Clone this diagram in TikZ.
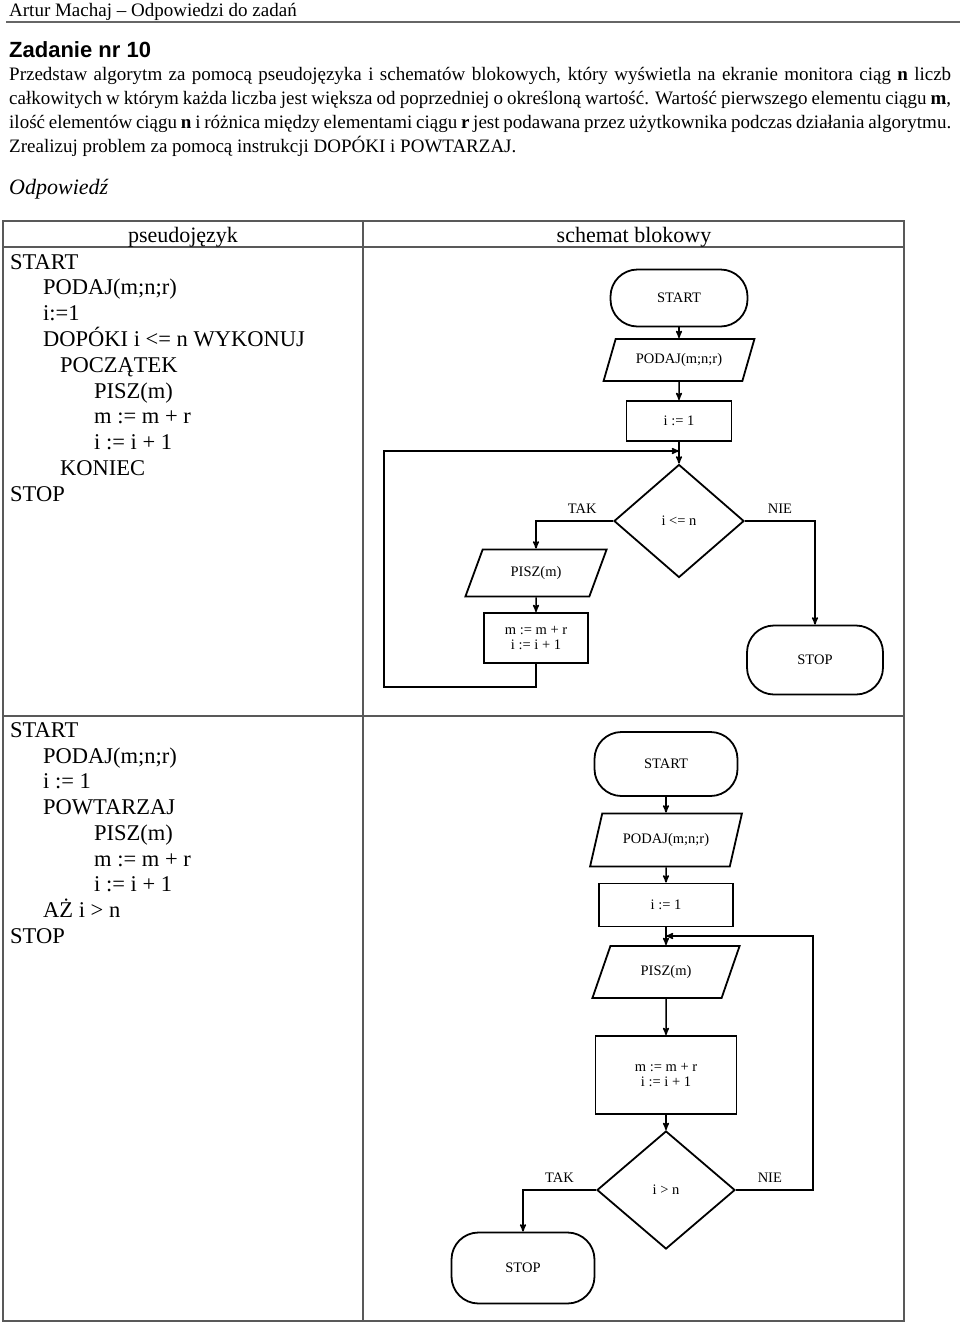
\documentclass[tikz,border=0pt]{standalone}
\usepackage{fontspec}
\setmainfont{Liberation Serif}
\newfontfamily\headfont{Liberation Sans}
\usetikzlibrary{arrows, shapes.geometric, positioning}
\newcommand{\zmienna}[1]{\textbf{#1}}
\newcommand{\pxfont}[1]{\fontsize{#1}{#1}\selectfont}

\begin{document}
\begin{tikzpicture}[
        x=1pt, y=-1pt,
        >=stealth',
        every node/.style={inner sep=0pt},
        block/.style={draw, line width=1.8pt, font=\pxfont{14.5}, align=center},
        terminal/.style={block, rectangle, rounded corners=27pt},
        process/.style={block, rectangle},
        inout/.style={block, trapezium, trapezium left angle=58, trapezium right angle=122, trapezium stretches=true},
        decision/.style={block, diamond},
        flow/.style={->, line width=1.5pt},
        answer/.style={font=\pxfont{14.5}},
        code/.style={anchor=base west, font=\pxfont{22.5}},
        tekst/.style={anchor=base west, font=\pxfont{19}},
        tableline/.style={line width=1.2pt, black!65}]

    \useasboundingbox (0,0) rectangle (960,1323);

    % naglowek i tresc zadania
    \node[tekst] (autor) at (9,16) {Artur Machaj – Odpowiedzi do zadań};
    \draw[line width=1.5pt, black!60] (6,22) -- (960,22);
    \node[anchor=base west, font=\headfont\bfseries\pxfont{22}] (tytul) at (9,57) {Zadanie nr 10};
    \node[tekst] (zad1) at (9,80.5) {\makebox[942pt][s]{Przedstaw algorytm za pomocą pseudojęzyka i schematów blokowych, który wyświetla na ekranie monitora ciąg \zmienna{n} liczb}};
    \node[tekst] (zad2) at (9,104.5) {\makebox[942pt][s]{całkowitych w którym każda liczba jest większa od poprzedniej o określoną wartość. Wartość pierwszego elementu ciągu \zmienna{m},}};
    \node[tekst] (zad3) at (9,128.5) {\makebox[942pt][s]{ilość elementów ciągu \zmienna{n} i różnica między elementami ciągu \zmienna{r} jest podawana przez użytkownika podczas działania algorytmu.}};
    \node[tekst] (zad4) at (9,152.5) {Zrealizuj problem za pomocą instrukcji DOPÓKI i POWTARZAJ.};
    \node[anchor=base west, font=\itshape\pxfont{22}] (odp) at (9,194) {Odpowiedź};

    % tabela
    \draw[tableline] (3,221) rectangle (904,1321);
    \draw[tableline] (3,247) -- (904,247) (3,716) -- (904,716) (363,221) -- (363,1321);
    \node[anchor=base, font=\pxfont{22}] (hpseudo) at (183,242) {pseudojęzyk};
    \node[anchor=base, font=\pxfont{22}] (hschemat) at (634,242) {schemat blokowy};

    % pseudojezyk - DOPOKI
    \node[code] (d1) at (10,269) {START};
    \node[code] (d2) at (43,294.8) {PODAJ(m;n;r)};
    \node[code] (d3) at (43,320.6) {i:=1};
    \node[code] (d4) at (43,346.4) {DOPÓKI i <= n WYKONUJ};
    \node[code] (d5) at (60,372.2) {POCZĄTEK};
    \node[code] (d6) at (94,398) {PISZ(m)};
    \node[code] (d7) at (94,423.8) {m := m + r};
    \node[code] (d8) at (94,449.6) {i := i + 1};
    \node[code] (d9) at (60,475.4) {KONIEC};
    \node[code] (d10) at (10,501.2) {STOP};

    % schemat blokowy - DOPOKI
    \node[terminal, minimum width=137pt, minimum height=57pt] (start1) at (679,298) {START};
    \node[inout, minimum width=151pt, minimum height=42pt] (podaj1) at (679,360) {PODAJ(m;n;r)};
    \node[process, minimum width=105pt, minimum height=40pt] (init1) at (679,421) {i := 1};
    \node[decision, minimum width=130pt, minimum height=113pt] (cond1) at (679,521) {i <= n};
    \node[inout, minimum width=142pt, minimum height=47pt] (pisz1) at (536,573) {PISZ(m)};
    \node[process, minimum width=104pt, minimum height=50pt] (calc1) at (536,638) {m := m + r\\i := i + 1};
    \node[terminal, minimum width=136pt, minimum height=69pt] (stop1) at (815,660) {STOP};
    \coordinate (powrot1) at (384,687);
    \coordinate (wejscie1) at (679,451);

    \draw[flow] (start1) -- (podaj1);
    \draw[flow] (podaj1) -- (init1);
    \draw[flow] (init1) -- (cond1);
    \draw[flow] (cond1.west) -| node[answer, pos=0.2, above=7pt] {TAK} (pisz1);
    \draw[flow] (cond1.east) -| node[answer, pos=0.25, above=7pt] {NIE} (stop1);
    \draw[flow] (pisz1) -- (calc1);
    \draw[flow] (calc1.south) |- (powrot1) |- (wejscie1);

    % pseudojezyk - POWTARZAJ
    \node[code] (p1) at (10,737.5) {START};
    \node[code] (p2) at (43,763.2) {PODAJ(m;n;r)};
    \node[code] (p3) at (43,788.9) {i := 1};
    \node[code] (p4) at (43,814.6) {POWTARZAJ};
    \node[code] (p5) at (94,840.3) {PISZ(m)};
    \node[code] (p6) at (94,866) {m := m + r};
    \node[code] (p7) at (94,891.7) {i := i + 1};
    \node[code] (p8) at (43,917.4) {AŻ i > n};
    \node[code] (p9) at (10,943.1) {STOP};

    % schemat blokowy - POWTARZAJ
    \node[terminal, minimum width=143pt, minimum height=64pt] (start2) at (666,764) {START};
    \node[inout, minimum width=152pt, minimum height=53pt] (podaj2) at (666,840) {PODAJ(m;n;r)};
    \node[process, minimum width=134pt, minimum height=43pt] (init2) at (666,905) {i := 1};
    \node[inout, minimum width=148pt, minimum height=52pt] (pisz2) at (666,972) {PISZ(m)};
    \node[process, minimum width=141pt, minimum height=78pt] (calc2) at (666,1075) {m := m + r\\i := i + 1};
    \node[decision, minimum width=138pt, minimum height=118pt] (cond2) at (666,1190) {i > n};
    \node[terminal, minimum width=143pt, minimum height=71pt] (stop2) at (523,1268) {STOP};
    \coordinate (powrot2) at (813,936);
    \coordinate (wejscie2) at (666,936);

    \draw[flow] (start2) -- (podaj2);
    \draw[flow] (podaj2) -- (init2);
    \draw[flow] (init2) -- (pisz2);
    \draw[flow] (pisz2) -- (calc2);
    \draw[flow] (calc2) -- (cond2);
    \draw[flow] (cond2.west) -| node[answer, pos=0.25, above=7pt] {TAK} (stop2);
    \draw[flow] (cond2.east) -| node[answer, pos=0.22, above=7pt] {NIE} (powrot2) -- (wejscie2);

\end{tikzpicture}
\end{document}
